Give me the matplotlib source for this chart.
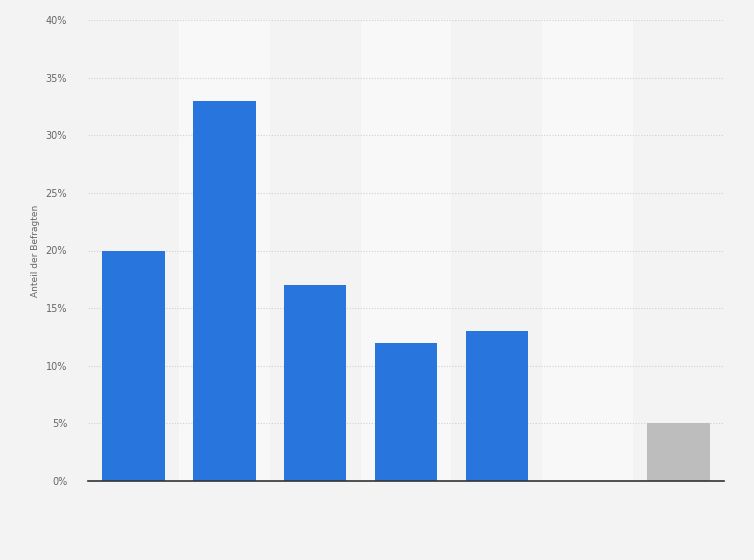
import numpy as np
import matplotlib.pyplot as plt

# Werte aus dem Diagramm (Anteil der Befragten in %)
kategorien = ['1', '2', '3', '4', '5', '6', '7']
werte = [20, 33, 17, 12, 13, 0, 5]
farben = ['#2775dd'] * 6 + ['#bdbdbd']
yticks = [0, 5, 10, 15, 20, 25, 30, 35, 40]

fig = plt.figure(figsize=(7.54, 5.6), dpi=100)
fig.patch.set_facecolor('#f3f3f3')
ax = fig.add_axes([88/754, 79/560, 636/754, 461/560])
ax.set_facecolor('#f3f3f3')

x = np.arange(len(kategorien))
# abwechselnde Hintergrundstreifen
for i in x:
    if i % 2 == 1:
        ax.axvspan(i - 0.5, i + 0.5, color='#f8f8f8', zorder=0, lw=0)

ax.bar(x, werte, width=0.69, color=farben, zorder=3)

ax.set_xlim(-0.5, len(kategorien) - 0.5)
ax.set_ylim(0, 40)
ax.set_yticks(yticks)
ax.set_yticklabels([f'{v}%' for v in yticks], fontsize=7, color='#666666')
ax.set_xticks(x)
ax.set_xticklabels(['' for _ in kategorien])
ax.tick_params(length=0, pad=15)
ax.yaxis.grid(True, linestyle=(0, (1, 1.5)), color='#d0d0d0', lw=0.8, zorder=1)

for s in ['top', 'right', 'left']:
    ax.spines[s].set_visible(False)
ax.spines['bottom'].set_color('#333333')
ax.spines['bottom'].set_linewidth(1.2)
ax.spines['bottom'].set_zorder(4)

ax.set_ylabel('Anteil der Befragten', fontsize=6.5, color='#666666')
ax.yaxis.set_label_coords(-(88 - 40) / 636, 0.5)

fig.savefig('out.png', dpi=100, facecolor=fig.get_facecolor())
